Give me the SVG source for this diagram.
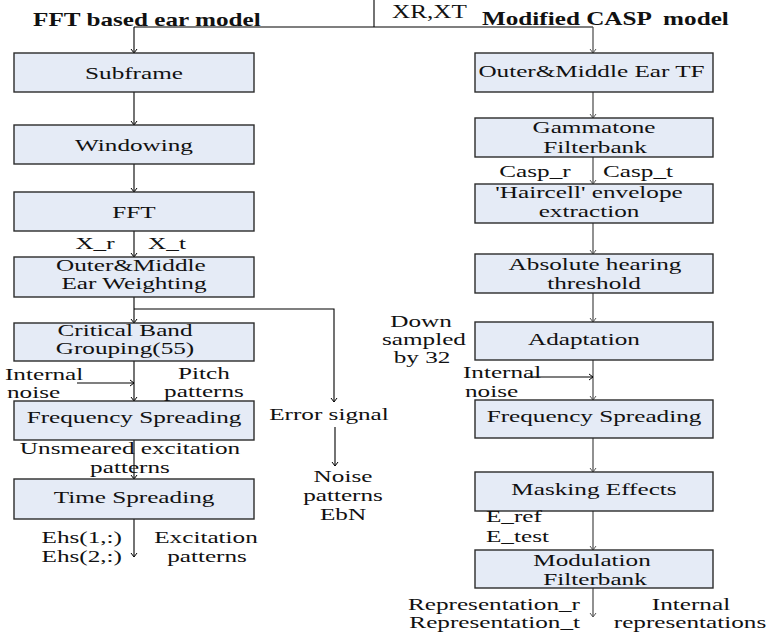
<svg xmlns="http://www.w3.org/2000/svg" width="770" height="637" viewBox="0 0 770 637">
<style>
.box{fill:#E5EBF6;stroke:#2b2b2b;stroke-width:1.4}
.t{font-family:"Liberation Serif","Times New Roman",serif;font-size:16px;fill:#111}
.h{font-size:18px}
.c{text-anchor:middle}
.e{text-anchor:end}
.b{font-weight:bold}
.pre{white-space:pre}
.ln{fill:none;stroke:#000;stroke-width:1.1}
.lg{fill:none;stroke:#555;stroke-width:1.3}
</style>
<defs>
<marker id="ah" markerUnits="userSpaceOnUse" markerWidth="10" markerHeight="10" viewBox="-6 -5 7 10" refX="0" refY="0" orient="auto">
<path d="M-4,-3 L0,0 L-4,3" fill="none" stroke="#000" stroke-width="1"/>
</marker>
<marker id="ahg" markerUnits="userSpaceOnUse" markerWidth="10" markerHeight="10" viewBox="-6 -5 7 10" refX="0" refY="0" orient="auto">
<path d="M-4,-3 L0,0 L-4,3" fill="none" stroke="#555" stroke-width="1"/>
</marker>
</defs>
<rect width="770" height="637" fill="#fff"/>

<g id="connectors">
<path class="ln" d="M374,0 V27"/>
<path class="ln" d="M134,27 H593"/>
<path class="ln" d="M134,27 V53" marker-end="url(#ah)"/>
<path class="lg" d="M593,27 V53" marker-end="url(#ahg)"/>
<path class="ln" d="M134,92 V125" marker-end="url(#ah)"/>
<path class="ln" d="M134,164 V192" marker-end="url(#ah)"/>
<path class="ln" d="M134,231 V257" marker-end="url(#ah)"/>
<path class="ln" d="M134,297 V323" marker-end="url(#ah)"/>
<path class="ln" d="M134,309 H334 V402" marker-end="url(#ah)"/>
<path class="ln" d="M134,361 V401" marker-end="url(#ah)"/>
<path class="ln" d="M77,383 H134" marker-end="url(#ah)"/>
<path class="ln" d="M134,440 V479" marker-end="url(#ah)"/>
<path class="ln" d="M134,519 V557" marker-end="url(#ah)"/>
<path class="ln" d="M335,427 V466" marker-end="url(#ah)"/>
<path class="lg" d="M593,92 V118" marker-end="url(#ahg)"/>
<path class="lg" d="M593,157 V184" marker-end="url(#ahg)"/>
<path class="lg" d="M593,223 V254" marker-end="url(#ahg)"/>
<path class="lg" d="M593,293 V322" marker-end="url(#ahg)"/>
<path class="lg" d="M593,360 V400" marker-end="url(#ahg)"/>
<path class="ln" d="M528,377 H593" marker-end="url(#ah)"/>
<path class="lg" d="M593,438 V472" marker-end="url(#ahg)"/>
<path class="lg" d="M593,511 V550" marker-end="url(#ahg)"/>
<path class="lg" d="M593,588 V617" marker-end="url(#ahg)"/>
</g>

<g id="subframe"><rect class="box" x="14" y="53" width="240" height="39"/></g>
<g id="windowing"><rect class="box" x="14" y="125" width="240" height="39"/></g>
<g id="fft"><rect class="box" x="14" y="192" width="240" height="39"/></g>
<g id="outer-middle-weighting"><rect class="box" x="14" y="257" width="240" height="40"/></g>
<g id="critical-band"><rect class="box" x="14" y="323" width="240" height="38"/></g>
<g id="freq-spreading-left"><rect class="box" x="14" y="401" width="240" height="39"/></g>
<g id="time-spreading"><rect class="box" x="14" y="479" width="240" height="40"/></g>

<g id="outer-middle-tf"><rect class="box" x="475" y="53" width="238" height="39"/></g>
<g id="gammatone"><rect class="box" x="475" y="118" width="238" height="39"/></g>
<g id="haircell"><rect class="box" x="475" y="184" width="238" height="39"/></g>
<g id="absolute-threshold"><rect class="box" x="475" y="254" width="238" height="39"/></g>
<g id="adaptation"><rect class="box" x="475" y="322" width="238" height="38"/></g>
<g id="freq-spreading-right"><rect class="box" x="475" y="400" width="238" height="38"/></g>
<g id="masking"><rect class="box" x="475" y="472" width="238" height="39"/></g>
<g id="modulation"><rect class="box" x="475" y="550" width="238" height="38"/></g>

<g id="titles" transform="scale(1.4 1)">
<text class="t h b" x="23.6" y="26">FFT based ear model</text>
<text class="t h b pre" x="344.3" y="25" xml:space="preserve">Modified CASP  model</text>
<text class="t h" x="280" y="18">XR,XT</text>
</g>

<g id="labels" transform="scale(1.575 1)">
<text class="t c" x="85.08" y="79">Subframe</text>
<text class="t c" x="85.08" y="151">Windowing</text>
<text class="t c" x="85.08" y="218">FFT</text>
<text class="t c" x="60.32" y="249">X_r</text>
<text class="t c" x="106.03" y="249">X_t</text>
<text class="t c" x="83.11" y="271">Outer&amp;Middle</text>
<text class="t c" x="85.08" y="289">Ear Weighting</text>
<text class="t c" x="79.37" y="336">Critical Band</text>
<text class="t c" x="79.37" y="354">Grouping(55)</text>
<text class="t" x="3.17" y="380">Internal</text>
<text class="t" x="4.44" y="398">noise</text>
<text class="t c" x="129.52" y="379">Pitch</text>
<text class="t c" x="129.52" y="397">patterns</text>
<text class="t c" x="85.08" y="423">Frequency Spreading</text>
<text class="t c" x="82.54" y="454">Unsmeared excitation</text>
<text class="t c" x="82.54" y="473">patterns</text>
<text class="t c" x="85.08" y="503">Time Spreading</text>
<text class="t e" x="77.46" y="543">Ehs(1,:)</text>
<text class="t e" x="77.46" y="562">Ehs(2,:)</text>
<text class="t c" x="130.79" y="543">Excitation</text>
<text class="t c" x="131.43" y="562">patterns</text>
<text class="t c" x="208.89" y="420">Error signal</text>
<text class="t c" x="217.78" y="482">Noise</text>
<text class="t c" x="217.78" y="501">patterns</text>
<text class="t c" x="217.78" y="520">EbN</text>

<text class="t c" x="375.56" y="77">Outer&amp;Middle Ear TF</text>
<text class="t c" x="377.15" y="133">Gammatone</text>
<text class="t c" x="377.78" y="153">Filterbank</text>
<text class="t c" x="339.68" y="177">Casp_r</text>
<text class="t c" x="405.08" y="177">Casp_t</text>
<text class="t c" x="373.96" y="198">'Haircell' envelope</text>
<text class="t c" x="373.96" y="217">extraction</text>
<text class="t c" x="377.78" y="270">Absolute hearing</text>
<text class="t c" x="377.15" y="289">threshold</text>
<text class="t c" x="267.30" y="327">Down</text>
<text class="t c" x="269.21" y="345">sampled</text>
<text class="t c" x="267.94" y="363">by 32</text>
<text class="t c" x="370.79" y="345">Adaptation</text>
<text class="t" x="293.96" y="378">Internal</text>
<text class="t" x="295.24" y="397">noise</text>
<text class="t c" x="377.15" y="422">Frequency Spreading</text>
<text class="t c" x="377.15" y="495">Masking Effects</text>
<text class="t" x="308.57" y="522">E_ref</text>
<text class="t" x="308.57" y="542">E_test</text>
<text class="t c" x="375.88" y="566">Modulation</text>
<text class="t c" x="377.78" y="585">Filterbank</text>
<text class="t e" x="368.26" y="610">Representation_r</text>
<text class="t e" x="368.26" y="628">Representation_t</text>
<text class="t c" x="438.73" y="610">Internal</text>
<text class="t c" x="438.10" y="628">representations</text>
</g>
</svg>
